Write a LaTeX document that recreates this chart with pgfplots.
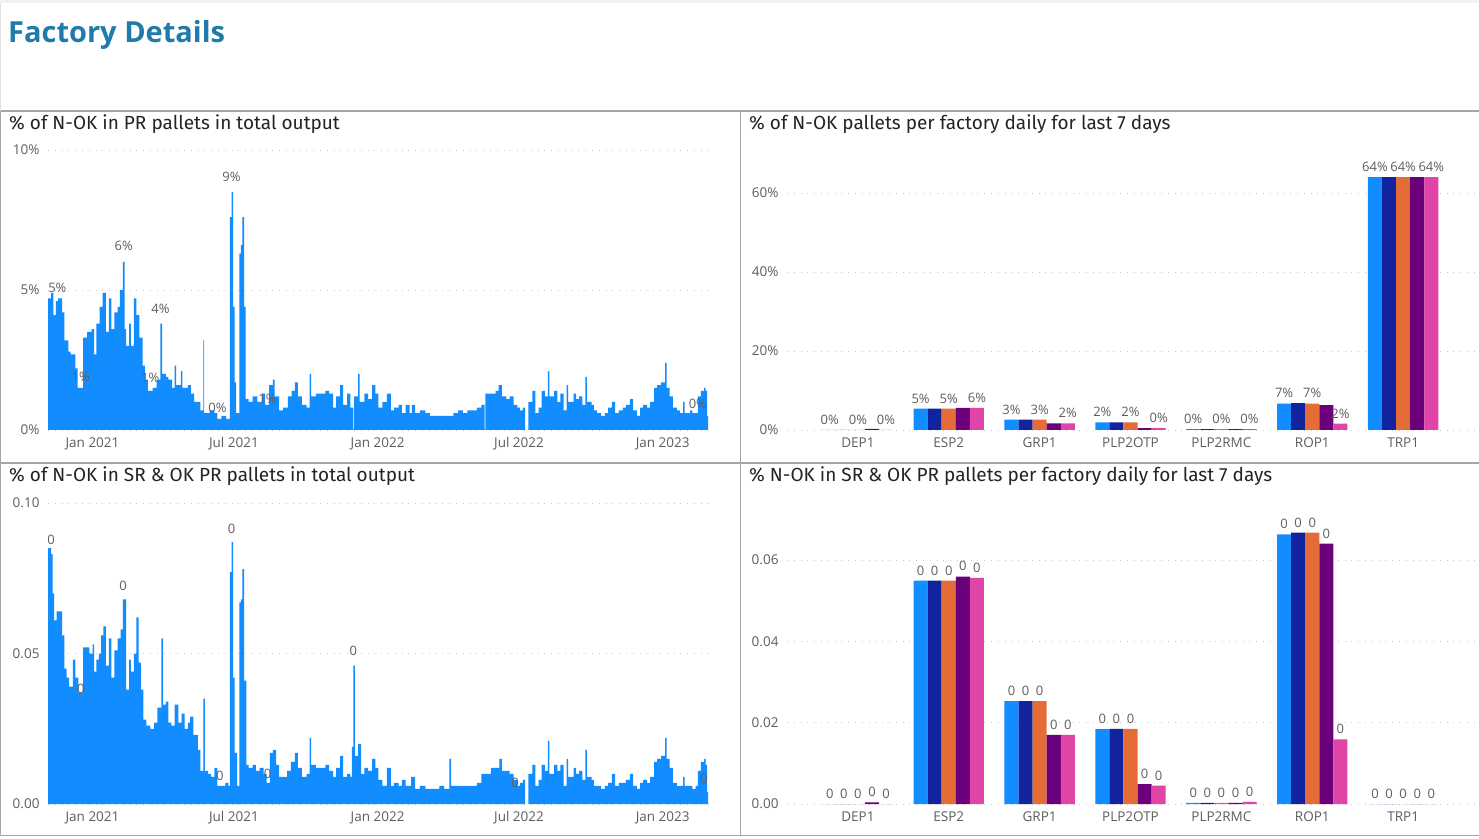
\documentclass[border=0pt]{standalone}
\usepackage{fontspec}
\setmainfont{Open Sans}
\newfontfamily\titlefont{Fira Sans}
\usepackage{pgfplots}
\pgfplotsset{compat=1.18}
\usepackage{pgfplotstable}

\definecolor{c1}{HTML}{118DFF}
\definecolor{c2}{HTML}{12239E}
\definecolor{c3}{HTML}{E66C37}
\definecolor{c4}{HTML}{6B007B}
\definecolor{c5}{HTML}{E044A7}
\definecolor{tickc}{HTML}{605E5C}
\definecolor{gridc}{HTML}{C8C8C8}
\definecolor{borderc}{HTML}{A6A6A6}
\definecolor{ttl}{HTML}{252423}
\definecolor{head}{HTML}{1F7BAB}

\pgfplotstableread{
day val
-57 4.7
-53 4.9
-50 4.1
-47 4.6
-44 4.7
-41 4.7
-39 4.2
-36 3.2
-31 2.8
-28 2.7
-24 2.7
-22 2.2
-19 1.5
-13 1.5
-12 3.3
-7 3.5
-1 3.6
2 2.7
5 3.8
9 4.4
13 4.9
17 3.5
21 4.7
24 3.6
28 4.2
32 4.4
35 5.0
39 6.0
41 3.6
43 3.0
47 3.8
49 3.0
53 4.7
56 4.1
60 3.3
64 2.3
67 1.8
71 1.4
77 1.5
82 1.8
87 3.8
89 2.0
94 1.9
97 1.8
102 1.5
105 2.3
107 1.6
113 2.1
115 1.5
122 1.6
126 1.3
130 1.0
135 1.0
138 0.7
142 3.2
143 0.6
150 0.7
156 0.6
160 0.4
165 0.5
171 0.4
176 7.6
178 8.5
180 4.4
182 1.7
184 0.6
188 6.3
190 6.6
192 7.6
194 4.4
196 1.1
200 1.0
205 1.2
211 1.0
217 1.3
221 0.9
226 1.6
231 1.8
233 1.2
239 0.7
244 0.8
250 1.2
255 1.4
259 1.7
263 1.2
268 0.9
274 0.8
278 2.0
280 1.2
286 1.3
292 1.3
298 1.4
303 1.3
308 0.8
312 1.2
317 1.6
321 0.9
326 1.3
330 0.8
334 0
335 1.2
340 2.0
342 1.0
348 1.3
353 1.1
358 1.6
362 1.3
366 0.8
371 1.0
377 1.3
382 0.7
386 0.8
392 0.9
396 0.6
401 0.9
406 0.6
409 0.9
413 0.6
419 0.7
426 0.6
432 0.5
438 0.5
444 0.5
450 0.5
456 0.5
462 0.6
468 0.7
474 0.6
480 0.7
486 0.7
492 0.8
498 0.9
502 0
503 1.3
510 1.3
516 1.4
520 1.6
524 1.2
530 1.1
534 1.2
539 0.9
544 0.8
547 0.7
551 0.8
554 0
558 1.0
563 1.4
567 0.6
571 0.8
575 1.4
579 1.2
583 2.1
585 1.2
591 1.4
595 1.0
599 1.3
603 0.7
607 1.6
609 1.0
616 1.3
619 1.1
623 1.2
627 0.9
631 1.9
633 1.0
639 0.9
642 0.7
646 0.6
651 0.5
656 0.6
660 0.8
665 1.0
669 0.6
674 0.7
679 0.8
683 0.9
688 1.1
692 0.7
697 0.5
701 0.8
705 0.9
710 0.8
714 1.0
719 1.5
723 1.6
728 1.7
733 2.4
735 1.5
739 1.2
743 0.8
748 0.7
752 0.6
756 1.0
758 0.6
765 0.7
768 0.6
772 0.6
775 1.2
779 1.4
783 1.5
785 1.4
787 0.5
788 0.5
}\prdata

\pgfplotstableread{
day val
-57 0.085
-53 0.083
-51 0.070
-49 0.061
-46 0.064
-41 0.064
-39 0.056
-36 0.045
-33 0.042
-30 0.039
-25 0.048
-22 0.042
-18 0.037
-12 0.052
-7 0.052
-4 0.050
0 0.053
2 0.044
5 0.048
8 0.050
11 0.056
14 0.059
17 0.046
21 0.055
24 0.042
28 0.051
32 0.055
36 0.058
39 0.068
43 0.038
47 0.048
49 0.044
53 0.050
56 0.062
59 0.047
62 0.038
65 0.028
69 0.026
74 0.025
79 0.027
83 0.032
88 0.055
90 0.033
94 0.034
97 0.027
101 0.026
105 0.033
110 0.027
114 0.030
118 0.025
122 0.027
125 0.029
129 0.023
132 0.023
135 0.018
138 0.011
142 0.035
144 0.011
148 0.010
152 0.009
156 0.012
160 0.006
165 0.006
170 0.007
174 0.006
176 0.077
178 0.087
180 0.042
182 0.017
185 0.006
188 0.067
190 0.068
192 0.078
194 0.041
197 0.013
200 0.012
205 0.013
209 0.011
214 0.012
219 0.010
223 0.007
227 0.017
231 0.018
235 0.013
239 0.009
244 0.009
249 0.011
254 0.014
259 0.017
263 0.012
268 0.009
274 0.010
278 0.022
280 0.013
286 0.012
292 0.012
298 0.013
303 0.011
308 0.009
312 0.012
317 0.016
321 0.009
326 0.010
330 0.009
332 0.019
334 0.046
336 0.016
340 0.020
344 0.010
348 0.012
353 0.011
358 0.015
362 0.012
366 0.008
371 0.006
377 0.012
382 0.006
386 0.007
392 0.006
396 0.008
401 0.006
408 0.009
413 0.005
419 0.006
426 0.005
432 0.005
438 0.005
444 0.006
450 0.005
457 0.015
459 0.006
468 0.006
474 0.006
480 0.006
486 0.006
492 0.007
498 0.010
504 0.010
510 0.012
516 0.012
521 0.015
524 0.011
530 0.011
534 0.010
539 0.008
544 0.006
547 0.007
551 0.008
554 0
558 0.010
563 0.013
567 0.006
571 0.008
575 0.013
579 0.011
583 0.021
585 0.010
591 0.013
595 0.011
599 0.013
603 0.006
607 0.015
609 0.009
616 0.012
619 0.010
623 0.011
627 0.008
631 0.018
633 0.009
639 0.008
642 0.006
646 0.006
651 0.005
656 0.006
660 0.007
665 0.010
669 0.006
674 0.007
679 0.007
683 0.008
688 0.010
692 0.006
697 0.005
701 0.007
705 0.008
710 0.007
714 0.009
719 0.014
723 0.015
728 0.016
733 0.022
735 0.015
739 0.012
743 0.007
748 0.006
752 0.006
756 0.009
758 0.006
765 0.006
768 0.005
772 0.006
775 0.011
779 0.014
783 0.015
785 0.013
787 0.004
788 0.004
}\srdata

\tikzset{lbl/.style={font=\fontsize{13}{15}\selectfont, text=tickc, inner sep=0pt}}

\pgfplotsset{
  pbi/.style={scale only axis, axis line style={draw=none}, tick style={draw=none},
    major tick length=0pt, ymajorgrids, scaled y ticks=false, scaled x ticks=false,
    grid style={gridc, line width=0.8pt, dash pattern=on 0.8pt off 6pt},
    tick label style={font=\fontsize{13.5}{16}\selectfont, text=tickc},
    xticklabel style={yshift=-4pt}, yticklabel style={xshift=-5pt},
    /pgf/number format/assume math mode=true},
  ts/.style={pbi, width=660pt, xmin=-57, xmax=788, xtick={0,181,365,546,730},
    xticklabels={Jan 2021,Jul 2021,Jan 2022,Jul 2022,Jan 2023}, ymin=0},
  bars/.style={pbi, width=687pt, ybar=0pt, bar width=0.155, xmin=-0.78, xmax=6.78,
    xtick={0,...,6}, xticklabels={DEP1,ESP2,GRP1,PLP2OTP,PLP2RMC,ROP1,TRP1}, ymin=0},
  nnc/.style={every node near coord/.append style={font=\fontsize{13}{15}\selectfont, text=tickc, yshift=2pt}},
}

\begin{document}
\begin{tikzpicture}
\useasboundingbox (0pt,0pt) rectangle (1479pt,838pt);
\fill[white] (0pt,0pt) rectangle (1479pt,838pt);
\fill[black!5] (0pt,835pt) rectangle (1479pt,838pt);

\node[anchor=base west, inner sep=0pt, font=\bfseries\fontsize{29}{34}\selectfont, text=head] at (8pt,795pt) {Factory Details};

% top-left
\begin{axis}[ts, at={(48pt,408pt)}, anchor=south west, height=280pt, ymax=10,
  ytick={0,5,10}, yticklabels={0\%,5\%,10\%}]
\addplot[const plot, fill=c1, draw=none] table[x=day,y=val] {\prdata} \closedcycle;
\node[lbl] at (axis cs:-45,5.06) {5\%};
\node[lbl] at (axis cs:-15,1.9) {1\%};
\node[lbl] at (axis cs:40,6.56) {6\%};
\node[lbl] at (axis cs:87,4.33) {4\%};
\node[lbl] at (axis cs:74,1.85) {1\%};
\node[lbl] at (axis cs:160,0.8) {0\%};
\node[lbl] at (axis cs:178,9.05) {9\%};
\node[lbl] at (axis cs:224,1.13) {1\%};
\node[lbl] at (axis cs:775,0.95) {0\%};
\end{axis}

% bottom-left
\begin{axis}[ts, at={(48pt,34pt)}, anchor=south west, height=301pt, ymax=0.1,
  ytick={0,0.05,0.1}, yticklabels={0.00,0.05,0.10}]
\addplot[const plot, fill=c1, draw=none] table[x=day,y=val] {\srdata} \closedcycle;
\node[lbl] at (axis cs:-53,0.0878) {0};
\node[lbl] at (axis cs:-15,0.0383) {0};
\node[lbl] at (axis cs:39,0.0725) {0};
\node[lbl] at (axis cs:178,0.0915) {0};
\node[lbl] at (axis cs:163,0.0092) {0};
\node[lbl] at (axis cs:224,0.0100) {0};
\node[lbl] at (axis cs:334,0.0508) {0};
\node[lbl] at (axis cs:541,0.0070) {0};
\node[lbl] at (axis cs:783,0.0085) {0};
\end{axis}

% top-right
\begin{axis}[bars, at={(787pt,408pt)}, anchor=south west, height=280pt, ymax=70.9,
  ytick={0,20,40,60}, yticklabels={0\%,20\%,40\%,60\%}, nnc]
\addplot[fill=c1, draw=none, nodes near coords={\pgfmathprintnumber[fixed,precision=0]{\pgfplotspointmeta}\%}]
  coordinates {(0,0) (1,5.4) (2,2.6) (3,1.9) (4,0.2) (5,6.7) (6,64.0)};
\addplot[fill=c2, draw=none]
  coordinates {(0,0) (1,5.4) (2,2.6) (3,1.9) (4,0.2) (5,6.8) (6,64.0)};
\addplot[fill=c3, draw=none, nodes near coords={\pgfmathprintnumber[fixed,precision=0]{\pgfplotspointmeta}\%}]
  coordinates {(0,0) (1,5.4) (2,2.6) (3,1.9) (4,0.2) (5,6.7) (6,64.0)};
\addplot[fill=c4, draw=none]
  coordinates {(0,0.3) (1,5.6) (2,1.7) (3,0.45) (4,0.2) (5,6.3) (6,64.0)};
\addplot[fill=c5, draw=none, nodes near coords={\pgfmathprintnumber[fixed,precision=0]{\pgfplotspointmeta}\%}]
  coordinates {(0,0) (1,5.6) (2,1.7) (3,0.45) (4,0.2) (5,1.6) (6,64.0)};
\end{axis}

% bottom-right
\begin{axis}[bars, at={(787pt,34pt)}, anchor=south west, height=301pt, ymax=0.074,
  ytick={0,0.02,0.04,0.06}, yticklabels={0.00,0.02,0.04,0.06}, nnc,
  nodes near coords={\pgfmathprintnumber[fixed,precision=0]{\pgfplotspointmeta}}]
\addplot[fill=c1, draw=none]
  coordinates {(0,0) (1,0.0549) (2,0.0253) (3,0.0184) (4,0.0003) (5,0.0663) (6,0)};
\addplot[fill=c2, draw=none]
  coordinates {(0,0) (1,0.0549) (2,0.0253) (3,0.0185) (4,0.0003) (5,0.0667) (6,0)};
\addplot[fill=c3, draw=none]
  coordinates {(0,0) (1,0.0549) (2,0.0253) (3,0.0185) (4,0.0003) (5,0.0667) (6,0)};
\addplot[fill=c4, draw=none]
  coordinates {(0,0.0004) (1,0.0559) (2,0.0170) (3,0.0049) (4,0.0003) (5,0.0640) (6,0)};
\addplot[fill=c5, draw=none]
  coordinates {(0,0) (1,0.0556) (2,0.0170) (3,0.0045) (4,0.0005) (5,0.0159) (6,0)};
\end{axis}

% titles
\node[anchor=west, inner sep=0pt, font=\titlefont\fontsize{19}{22}\selectfont, text=ttl] at (9pt,714pt) {\% of N-OK in PR pallets in total output};
\node[anchor=west, inner sep=0pt, font=\titlefont\fontsize{19}{22}\selectfont, text=ttl] at (749pt,714pt) {\% of N-OK pallets per factory daily for last 7 days};
\node[anchor=west, inner sep=0pt, font=\titlefont\fontsize{19}{22}\selectfont, text=ttl] at (9pt,362pt) {\% of N-OK in SR \& OK PR pallets in total output};
\node[anchor=west, inner sep=0pt, font=\titlefont\fontsize{19}{22}\selectfont, text=ttl] at (749pt,362pt) {\% N-OK in SR \& OK PR pallets per factory daily for last 7 days};

% panel borders
\draw[borderc, line width=1.6pt] (0pt,727pt) -- (1479pt,727pt);
\draw[borderc, line width=1.6pt] (0pt,375pt) -- (1479pt,375pt);
\draw[borderc, line width=1.6pt] (740.5pt,2.5pt) -- (740.5pt,727pt);
\draw[borderc, line width=1.6pt] (0pt,2.5pt) -- (1479pt,2.5pt);
\draw[borderc, line width=1.2pt] (0.6pt,2.5pt) -- (0.6pt,727pt);
\draw[black!12, line width=1pt] (0.5pt,727pt) -- (0.5pt,835pt);
\end{tikzpicture}
\end{document}
